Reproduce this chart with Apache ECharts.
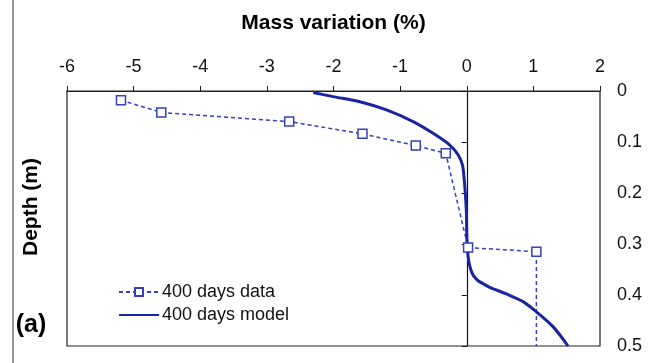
<!DOCTYPE html>
<html><head><meta charset="utf-8">
<script src="https://cdn.jsdelivr.net/npm/echarts@6/dist/echarts.min.js"></script>
<style>html,body{margin:0;padding:0;background:#fff}#c{width:662px;height:363px}</style>
</head><body><div id="c"></div>
<script>
const xTicks = [-6,-5,-4,-3,-2,-1,0,1,2];
const yTicks = [0,0.1,0.2,0.3,0.4,0.5];
const dataMass  = [-5.19,-4.585,-2.665,-1.565,-0.765,-0.315,0.02,1.045,1.045];
const dataDepth = [0.018,0.042,0.060,0.084,0.107,0.122,0.307,0.315,0.5];
const modelMass  = [-2.305,-2.005,-1.605,-1.205,-0.805,-0.505,-0.255,-0.13,-0.065,-0.04,-0.02,-0.005,0.0,0.01,0.03,0.06,0.1,0.17,0.26,0.345,0.595,0.845,1.045,1.295,1.52];
const modelDepth = [0.003,0.011,0.021,0.037,0.060,0.083,0.106,0.125,0.145,0.171,0.204,0.24,0.28,0.31,0.333,0.35,0.362,0.372,0.379,0.385,0.398,0.413,0.433,0.462,0.5];
const seriesNames = ['400 days data','400 days model'];

const chart = echarts.init(document.getElementById('c'));
const font = 'Liberation Sans, Arial, sans-serif';
chart.setOption({
  animation:false,
  textStyle:{fontFamily:font},
  grid:{left:67,right:62,top:91,bottom:17,show:true,borderColor:'#222',borderWidth:1.2},
  xAxis:{type:'value',position:'top',min:-6,max:2,interval:1,
    name:'Mass variation (%)',nameLocation:'middle',nameGap:57,
    nameTextStyle:{fontSize:21,fontWeight:'bold',color:'#000',fontFamily:font},
    axisLine:{onZero:false,lineStyle:{color:'#222',width:1.2}},
    axisTick:{show:true,length:5,lineStyle:{color:'#222'}},
    axisLabel:{fontSize:18,color:'#111',margin:15,fontFamily:font},
    splitLine:{show:false}},
  yAxis:[{type:'value',position:'right',inverse:true,min:0,max:0.5,interval:0.1,
    axisLine:{show:false,onZero:false},axisTick:{show:false},
    axisLabel:{fontSize:18,color:'#111',margin:17,fontFamily:font},
    splitLine:{show:false}},
   {type:'value',position:'left',inverse:true,min:0,max:0.5,interval:0.1,
    axisLine:{show:true,onZero:true,lineStyle:{color:'#111',width:1.2}},
    axisTick:{show:true,length:5,lineStyle:{color:'#111'}},
    axisLabel:{show:false},splitLine:{show:false}}],
  legend:{orient:'vertical',left:113,top:278,itemGap:5,itemWidth:40,itemHeight:10,
    textStyle:{fontSize:18,color:'#111',fontFamily:font,padding:[0,0,0,-2]},
    data:[{name:seriesNames[0]},{name:seriesNames[1],itemStyle:{opacity:0}}]},
  graphic:[
    {type:'line',shape:{x1:13,y1:0,x2:13,y2:363},style:{stroke:'#777',lineWidth:1.5}},
    {type:'text',x:31,y:207,rotation:Math.PI/2,style:{text:'Depth (m)',font:'bold 21px '+font,fill:'#000',textAlign:'center',textVerticalAlign:'middle'}},
    {type:'text',x:31,y:325,style:{text:'(a)',font:'bold 25px '+font,fill:'#000',textAlign:'center',textVerticalAlign:'middle'}}
  ],
  series:[
    {name:seriesNames[0],type:'line',
     data:dataMass.map((v,i)=>i===dataMass.length-1?{value:[v,dataDepth[i]],symbol:'none'}:[v,dataDepth[i]]),
     symbol:'rect',symbolSize:9,
     itemStyle:{color:'#fff',borderColor:'#3340c0',borderWidth:1.5},
     lineStyle:{color:'#3340c0',width:1.5,type:[4,3]}},
    {name:seriesNames[1],type:'line',smooth:0.3,symbol:'none',
     data:modelMass.map((v,i)=>[v,modelDepth[i]]),
     itemStyle:{color:'#1a24a0'},
     lineStyle:{color:'#1a24a0',width:3}}
  ]
});
</script></body></html>
